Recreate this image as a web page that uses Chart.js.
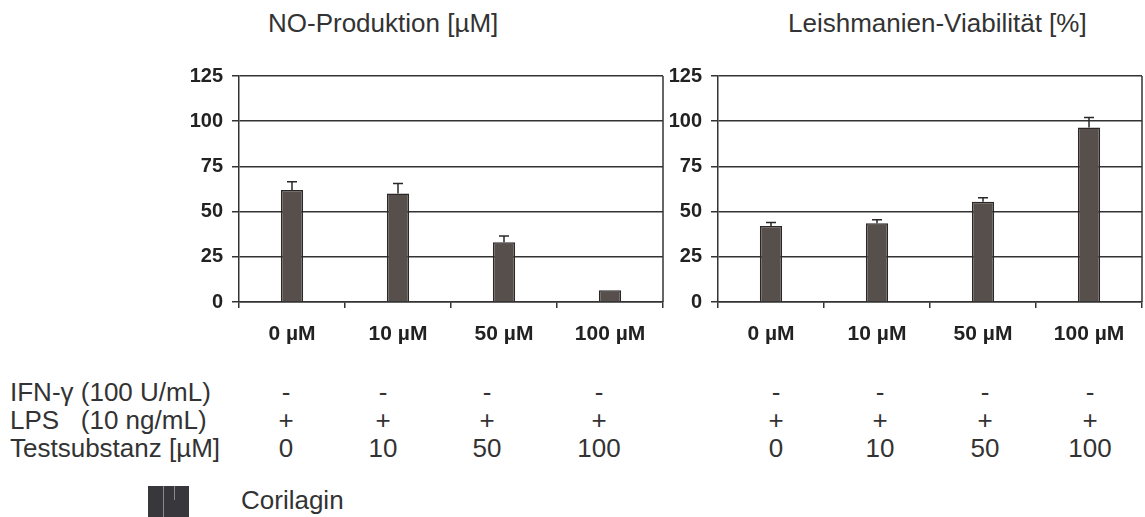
<!DOCTYPE html>
<html>
<head>
<meta charset="utf-8">
<script src="https://cdn.jsdelivr.net/npm/chart.js@4/dist/chart.umd.min.js"></script>
<style>
    body {
        margin: 0;
        width: 1145px;
        height: 517px;
        position: relative;
        overflow: hidden;
        background: #ffffff;
        font-family: "Liberation Sans", Arial, sans-serif;
        color: #333333;
    }
    canvas {
        position: absolute;
        top: 50px;
    }
    .label {
        position: absolute;
        font-size: 26px;
        line-height: 26px;
        white-space: pre;
    }
    .cell {
        position: absolute;
        font-size: 26px;
        line-height: 26px;
        transform: translateX(-50%);
    }
    .swatch {
        position: absolute;
        left: 148px;
        top: 486px;
        width: 41px;
        height: 40px;
        background: #38383c;
    }
    .swatch div {
        position: absolute;
        top: 0;
        width: 1px;
        background: #8a8a8e;
    }
</style>
</head>
<body>
<div class="label" style="left:268px; top:10px;">NO-Produktion [µM]</div>
<div class="label" style="left:788px; top:10px;">Leishmanien-Viabilität [%]</div>

<canvas id="noChart" width="510" height="310" style="left:160px;"></canvas>
<canvas id="viaChart" width="495" height="310" style="left:650px;"></canvas>

<div class="label" style="left:10px; top:379px;">IFN-γ (100 U/mL)</div>
<div class="label" style="left:10px; top:407px;">LPS   (10 ng/mL)</div>
<div class="label" style="left:10px; top:435px;">Testsubstanz [µM]</div>
<div id="table"></div>

<div class="swatch"><div style="left:15px; height:40px;"></div><div style="left:26px; height:14px;"></div></div>
<div class="label" style="left:241px; top:487px;">Corilagin</div>

<script>
const categories = ["0 µM", "10 µM", "50 µM", "100 µM"];
const noValues = [62, 60, 33, 6.5];
const noErrors = [4.5, 5.5, 3.5, 0];
const viabilityValues = [42, 43.5, 55.5, 96.5];
const viabilityErrors = [2, 2, 2.2, 5.5];
const yTicks = [0, 25, 50, 75, 100, 125];

const ifnRow = ["-", "-", "-", "-"];
const lpsRow = ["+", "+", "+", "+"];
const doseRow = ["0", "10", "50", "100"];

const lineColor = "#333333";
const barColor = "#574f4b";
const barBorder = "#2b2727";
const yFont = { family: "'Liberation Sans', Arial, sans-serif", size: 20, weight: "bold" };
const xFont = { family: "'Liberation Sans', Arial, sans-serif", size: 21, weight: "bold" };

// upper error bars only, like the original figure
const errorBars = {
    id: "errorBars",
    afterDatasetsDraw: (chart, args, opts) => {
        const ctx = chart.ctx;
        const meta = chart.getDatasetMeta(0);
        const values = chart.data.datasets[0].data;
        const yScale = chart.scales.y;

        ctx.save();
        ctx.strokeStyle = barBorder;
        ctx.lineWidth = 1.5;

        meta.data.forEach((bar, i) => {
            if (!opts.errors[i]) {
                return;
            }
            const top = yScale.getPixelForValue(values[i] + opts.errors[i]);
            ctx.beginPath();
            ctx.moveTo(bar.x, bar.y);
            ctx.lineTo(bar.x, top);
            ctx.moveTo(bar.x - 5, top);
            ctx.lineTo(bar.x + 5, top);
            ctx.stroke();
        });

        ctx.restore();
    }
};

const rightFrame = {
    id: "rightFrame",
    beforeDatasetsDraw: (chart) => {
        const ctx = chart.ctx;
        const area = chart.chartArea;

        ctx.save();
        ctx.strokeStyle = lineColor;
        ctx.lineWidth = 1.5;
        ctx.beginPath();
        ctx.moveTo(area.right, area.top);
        ctx.lineTo(area.right, area.bottom);
        ctx.stroke();
        ctx.restore();
    }
};

const makeChart = (canvasId, values, errors, axisWidth, padRight) => {
    const canvas = document.querySelector(canvasId);

    return new Chart(canvas, {
        type: "bar",
        data: {
            labels: categories,
            datasets: [
                {
                    data: values,
                    backgroundColor: barColor,
                    borderColor: barBorder,
                    borderWidth: 1.5,
                    categoryPercentage: 1,
                    barPercentage: 0.21
                }
            ]
        },
        plugins: [errorBars, rightFrame],
        options: {
            responsive: false,
            animation: false,
            layout: {
                padding: { top: 26, right: padRight, bottom: 0, left: 0 }
            },
            plugins: {
                legend: { display: false },
                tooltip: { enabled: false },
                errorBars: { errors: errors }
            },
            scales: {
                x: {
                    offset: true,
                    grid: {
                        offset: true,
                        drawOnChartArea: false,
                        tickLength: 6,
                        color: lineColor,
                        lineWidth: 1.5
                    },
                    border: { display: true, color: lineColor, width: 1.5 },
                    ticks: { font: xFont, color: "#222222", padding: 14 },
                    afterFit: (scale) => {
                        scale.height = 58;
                        scale.paddingLeft = 0;
                        scale.paddingRight = 0;
                    }
                },
                y: {
                    min: yTicks[0],
                    max: yTicks[yTicks.length - 1],
                    grid: {
                        tickLength: 7,
                        color: lineColor,
                        lineWidth: 1.5
                    },
                    border: { display: true, color: lineColor, width: 1.5 },
                    ticks: {
                        font: yFont,
                        color: "#222222",
                        padding: 9,
                        stepSize: yTicks[1] - yTicks[0]
                    },
                    afterFit: (scale) => {
                        scale.width = axisWidth;
                        scale.paddingTop = 0;
                        scale.paddingBottom = 0;
                    }
                }
            }
        }
    });
};

makeChart("#noChart", noValues, noErrors, 79, 7);
makeChart("#viaChart", viabilityValues, viabilityErrors, 68, 3);

// treatment table under both charts
const leftColumns = [286, 383, 487, 599];
const rightColumns = [776, 880, 985, 1090];
const rows = [
    { cells: ifnRow, top: 379 },
    { cells: lpsRow, top: 407 },
    { cells: doseRow, top: 435 }
];

const table = document.querySelector("#table");

for (let row of rows) {
    for (let columns of [leftColumns, rightColumns]) {
        row.cells.forEach((text, i) => {
            const cell = document.createElement("div");
            cell.className = "cell";
            cell.style.left = columns[i] + "px";
            cell.style.top = row.top + "px";
            cell.textContent = text;
            table.appendChild(cell);
        });
    }
}
</script>
</body>
</html>
